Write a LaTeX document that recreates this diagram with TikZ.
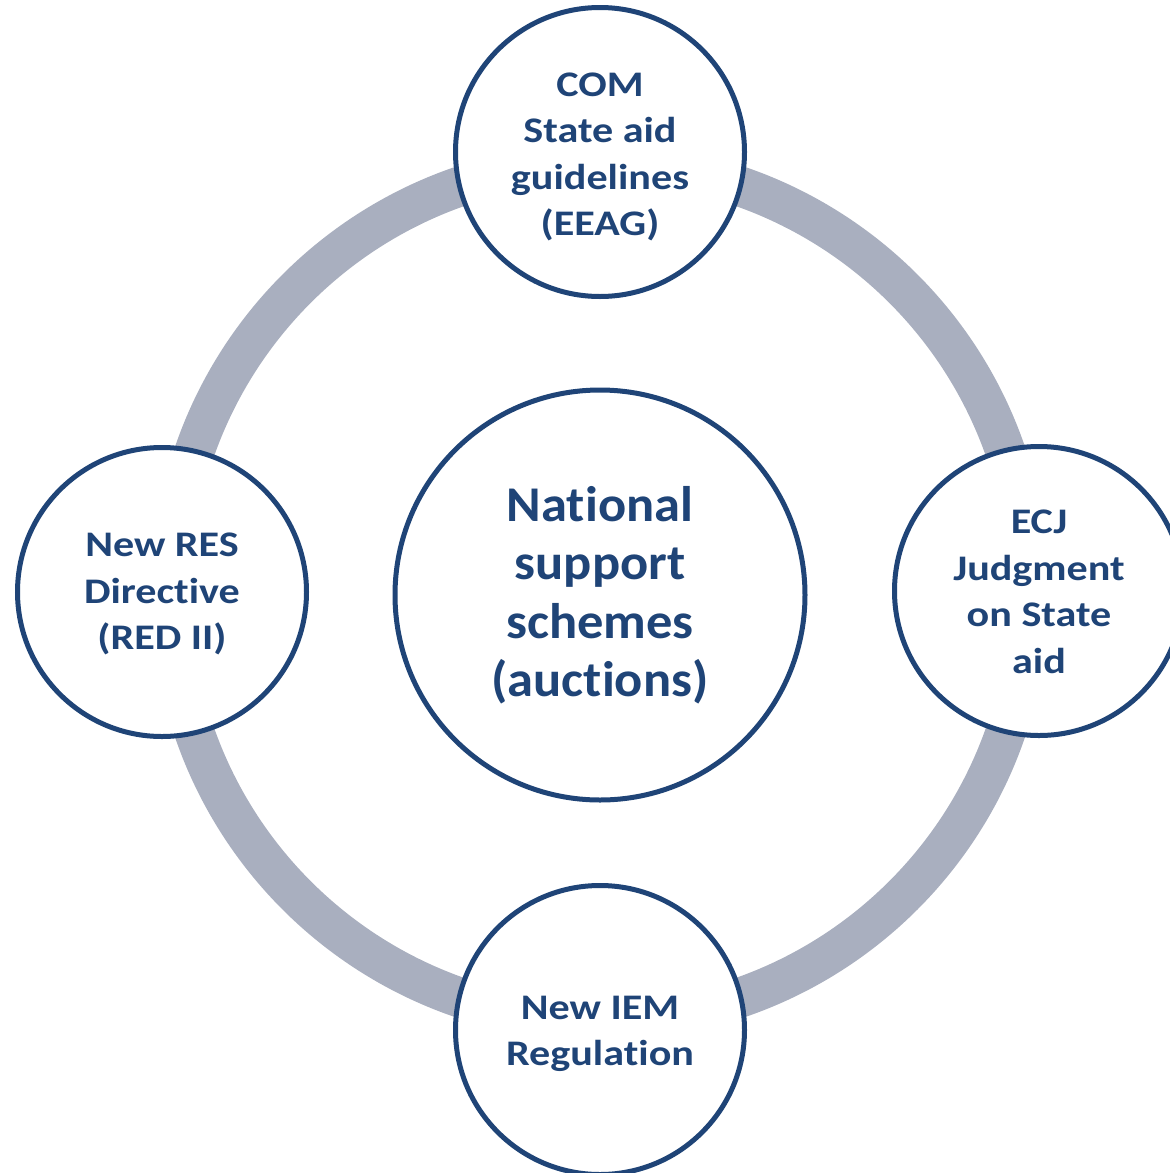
\documentclass[tikz,border=0pt]{standalone}
\usepackage{fontspec}
\setmainfont{Carlito}[Ligatures=NoCommon]
\newfontfamily\smallfnt{Carlito}[Ligatures=NoCommon,FakeStretch=1.17]
\newfontfamily\bigfnt{Carlito}[Ligatures=NoCommon,FakeStretch=1.05]
\definecolor{navy}{HTML}{1F4477}
\definecolor{ringgray}{HTML}{A9AFBF}
\begin{document}
\begin{tikzpicture}[x=1pt,y=-1pt,
  circ/.style={circle,draw=navy,line width=5pt,fill=white,inner sep=0pt},
  smallc/.style={circ,minimum size=289pt},
  bigc/.style={circ,minimum size=410pt},
  smalltxt/.style={align=center,inner sep=0pt,text=navy,font=\smallfnt\fontsize{36}{46.5}\selectfont\bfseries},
  bigtxt/.style={align=center,inner sep=0pt,text=navy,font=\bigfnt\fontsize{50}{58.5}\selectfont\bfseries}]
\useasboundingbox (0,0) rectangle (1170,1173);
\coordinate (c) at (600,592);
\draw[ringgray,line width=40pt] (c) circle[radius=429pt];
\node[bigc] (nat) at (600,595) {};
\node[smallc] (com) at (600,152) {};
\node[smallc] (ecj) at (1039,591) {};
\node[smallc] (iem) at (600,1030) {};
\node[smallc] (red) at (162,592) {};
\node[bigtxt] (nat-t) at (nat.center) {National\\support\\schemes\\(auctions)};
\node[smalltxt] (com-t) at ([yshift=-5pt]com.center) {COM\\State aid\\guidelines\\(EEAG)};
\node[smalltxt] (ecj-t) at ([yshift=-1pt]ecj.center) {ECJ\\Judgment\\on State\\aid};
\node[smalltxt] (iem-t) at ([yshift=-4pt]iem.center) {New IEM\\Regulation};
\node[smalltxt] (red-t) at ([yshift=-2pt]red.center) {New RES\\Directive\\(RED II)};
\end{tikzpicture}
\end{document}
